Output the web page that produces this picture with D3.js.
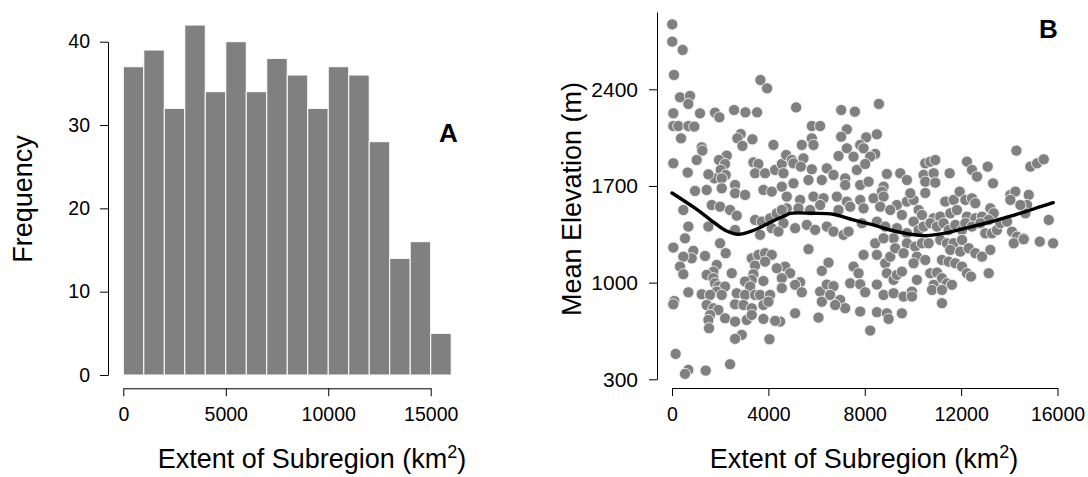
<!DOCTYPE html>
<html>
<head>
<meta charset="utf-8">
<script src="https://cdn.jsdelivr.net/npm/d3@7"></script>
<style>
  body { margin: 0; background: #fff; }
  svg text { font-family: "Liberation Sans", Arial, Helvetica, sans-serif; fill: #000; }
</style>
</head>
<body>
<svg id="chart" width="1088" height="477"></svg>
<script>
// Panel A: histogram of subregion extent (bin width 1000 km2)
const binStarts = [0,1000,2000,3000,4000,5000,6000,7000,8000,9000,10000,11000,12000,13000,14000,15000];
const binCounts = [37,39,32,42,34,40,34,38,36,32,37,36,28,14,16,5];
const histTicksX = [0,5000,10000,15000];
const histTicksY = [0,10,20,30,40];

// Panel B: mean elevation against subregion extent
const extentKm2 = [
  10,10,443,83,3670,3947,332,748,679,55,1163,1787,1967,2576,3047,3532,55,263,679,928,
  2853,2715,3338,2922,374,1233,1260,1025,4210,55,651,2271,1953,2202,2022,2230,1759,2064,3379,3587,
  3449,3864,4280,4557,1510,2618,956,1440,2064,2618,3033,3795,4141,4557,
  5152,7022,7590,8587,5803,6149,7257,7022,8061,8504,5803,5872,5388,7257,7811,7950,6911,7534,8435,8227,
  4737,4972,5457,5041,5346,5803,6426,6703,7188,7673,8019,8919,9473,9750,4626,5041,5664,6218,7188,7811,
  8158,8781,8712,
  4764,5318,5872,6288,6842,7257,7811,8365,8781,9335,9750,4764,5249,5734,6149,6911,7396,7950,8642,9058,
  9542,4626,5110,5595,5942,6426,6703,7119,7327,7881,8504,8850,9335,9750,8435,9196,8781,5665,6496,6218,
  4695,4903,5318,5110,5388,7534,7742,7950,7396,7811,8019,8504,8504,8850,9058,9266,8919,9196,9335,9542,
  8781,9196,9612,6149,6218,6426,6703,6565,6980,7188,6772,5110,4487,6080,7811,8504,8919,8989,9542,8227,
  1648,1994,2410,2687,471,679,1510,2618,3449,3726,4072,4349,4557,4141,4418,3656,540,55,886,1371,
  817,471,332,471,1994,2230,1856,1717,1440,1717,2479,3310,3587,3864,4141,3449,3379,3310,3864,4349,
  1787,1925,2202,1856,3033,3241,3795,4557,679,1233,1579,2064,2687,3033,3449,3656,4072,4557,97,55,
  1440,1717,1925,2618,2964,3310,3795,4003,1579,1510,2202,2618,3102,3310,3795,4280,1537,2895,2618,4044,
  152,679,540,1399,2410,
  14293,14875,15152,15429,10512,10720,10928,12243,12451,12659,13102,10443,10512,10858,10928,11524,13323,10027,10235,11343,
  11690,11939,12174,12451,12590,13213,13351,14044,14251,14044,14806,14737,14667,14459,10374,10858,11135,11551,11828,12243,
  12590,12867,13144,10027,10235,10443,10720,10997,11274,11482,11759,12036,12174,12451,12798,13005,13282,13490,13628,13905,
  14113,14321,14598,15637,9750,10097,10374,10651,10166,10512,10027,9612,11135,11413,11690,12036,11551,11967,12313,12590,
  12867,13213,14183,14598,15263,15817,11205,11482,11759,12036,10166,9958,9958,10720,10997,11205,10858,10789,11413,11620,
  11205,12243,12409,13144,11205,10512,9891
];
const meanElevation = [
  2870,2745,2685,2504,2467,2407,2342,2352,2294,2226,2226,2231,2197,2250,2233,2233,2134,2134,2134,2130,
  2076,2045,2038,1990,2045,1980,1956,1888,1997,1864,1797,1920,1888,1859,1816,1780,1755,1755,1871,1859,
  1792,1792,1816,1859,1784,1707,1664,1671,1683,1647,1635,1671,1659,1695,
  2269,2250,2238,2294,2134,2134,2110,2057,2052,2074,2045,1997,1997,1973,1997,1973,1917,1912,1932,1912,
  1924,1888,1900,1864,1840,1821,1828,1780,1755,1816,1859,1787,1792,1743,1792,1719,1743,1743,1707,1707,
  1731,1695,1659,
  1623,1599,1623,1611,1623,1587,1599,1611,1623,1562,1587,1538,1538,1526,1562,1526,1550,1538,1550,1526,
  1490,1430,1394,1418,1382,1406,1370,1346,1370,1430,1442,1406,1394,1358,1285,1321,1321,1242,1145,1085,
  1116,1068,1003,984,930,1116,1068,1201,995,988,930,986,1201,1140,1188,1249,1068,1020,1056,1080,
  911,923,899,935,862,986,974,911,875,815,838,778,718,747,791,786,778,737,778,653,
  1562,1550,1526,1485,1526,1406,1406,1381,1454,1442,1466,1502,1526,1394,1370,1346,1321,1254,1230,1193,
  1176,1188,1116,1061,1285,1213,1128,1080,1056,1032,1068,1176,1201,1213,1201,1123,1061,1020,1152,1104,
  996,972,972,935,1008,972,1012,1032,930,916,911,911,923,911,911,911,911,960,867,843,
  838,814,802,843,838,814,838,862,766,730,742,718,730,766,737,723,670,622,593,590,
  484,368,339,363,409,
  1956,1840,1864,1893,1864,1876,1888,1876,1816,1768,1840,1780,1731,1792,1724,1792,1719,1599,1526,1587,
  1599,1659,1599,1611,1575,1538,1502,1635,1659,1599,1635,1562,1502,1562,1490,1466,1478,1502,1526,1478,
  1466,1478,1454,1442,1381,1406,1430,1406,1430,1381,1418,1381,1430,1406,1430,1357,1357,1381,1430,1442,
  1369,1333,1321,1454,1285,1261,1285,1285,1188,1164,1140,1213,1309,1285,1285,1309,1237,1225,1249,1213,
  1188,1237,1285,1314,1297,1285,1164,1152,1140,1116,1020,935,899,1068,1073,1032,984,947,995,984,
  947,1068,1044,1068,851,1649,1647
];
// Smoothed trend through the scatter
const smoothExtent    = [0,956,1787,2273,2755,3171,3728,4281,4696,4904,5860,6691,7522,8353,9060,9891,10515,11346,12177,13008,13839,14671,15294,15822];
const smoothElevation = [1649,1539,1430,1374,1350,1365,1405,1454,1485,1502,1502,1495,1454,1418,1381,1350,1340,1358,1394,1430,1471,1514,1550,1579];
const elevTicksX = [0,4000,8000,12000,16000];
const elevTicksY = [300,1000,1700,2400];

const svg = d3.select("#chart");
svg.append("rect").attr("width", 1088).attr("height", 477).attr("fill", "#fff");

const barFill = "#808080";
const tickFont = 19.5;
const titleFont = 27;

function styleAxis(g, size) {
  g.select(".domain").attr("stroke", "#000").attr("stroke-width", 1);
  g.selectAll(".tick line").attr("stroke", "#000").attr("stroke-width", 1);
  g.selectAll(".tick text").attr("font-size", size || tickFont).attr("fill", "#000")
    .style("font-family", "'Liberation Sans', Arial, sans-serif");
}

function xTitle(cx) {
  const t = svg.append("text").attr("x", cx).attr("y", 468)
    .attr("text-anchor", "middle").attr("font-size", titleFont);
  t.append("tspan").text("Extent of Subregion (km");
  t.append("tspan").attr("font-size", 18).attr("dy", -10).text("2");
  t.append("tspan").attr("dy", 10).text(")");
}

// ---------- Panel A ----------
const xh = d3.scaleLinear().domain([0, 15000]).range([123.3, 430.7]);
const yh = d3.scaleLinear().domain([0, 40]).range([375, 41.7]);

svg.append("g").selectAll("rect").data(binStarts).join("rect")
  .attr("x", (d) => xh(d))
  .attr("width", (d) => xh(d + 1000) - xh(d))
  .attr("y", (d, i) => yh(binCounts[i]))
  .attr("height", (d, i) => yh(0) - yh(binCounts[i]))
  .attr("fill", barFill)
  .attr("stroke", "#fff")
  .attr("stroke-width", 1);

svg.append("g").attr("transform", "translate(108,0)")
  .call(d3.axisLeft(yh).tickValues(histTicksY).tickSize(8).tickSizeOuter(0).tickPadding(10).tickFormat(d3.format("d")))
  .call(styleAxis);

svg.append("g").attr("transform", "translate(0,388.3)")
  .call(d3.axisBottom(xh).tickValues(histTicksX).tickSize(8).tickSizeOuter(0).tickPadding(11).tickFormat(d3.format("d")))
  .call(styleAxis);

svg.append("text").attr("transform", "translate(32,199) rotate(-90)")
  .attr("text-anchor", "middle").attr("font-size", titleFont).text("Frequency");
xTitle(312);
svg.append("text").attr("x", 448.5).attr("y", 141.5).attr("text-anchor", "middle")
  .attr("font-size", 26).attr("font-weight", "bold").text("A");

// ---------- Panel B ----------
const xs = d3.scaleLinear().domain([0, 16000]).range([672, 1057.5]);
const ys = d3.scaleLinear().domain([300, 2400]).range([379.3, 89.3]);
const yAxisScale = ys.copy().domain([300, 2960]).range([379.3, ys(2960)]);

svg.append("g").selectAll("circle").data(extentKm2).join("circle")
  .attr("cx", (d) => xs(d))
  .attr("cy", (d, i) => ys(meanElevation[i]))
  .attr("r", 5.6)
  .attr("fill", barFill)
  .attr("stroke", "#f0f0f0")
  .attr("stroke-width", 0.9);

const trend = d3.line()
  .x((d) => xs(d[0]))
  .y((d) => ys(d[1]))
  .curve(d3.curveCatmullRom.alpha(0.5));
svg.append("path")
  .datum(smoothExtent.map((d, i) => [d, smoothElevation[i]]))
  .attr("d", trend)
  .attr("fill", "none")
  .attr("stroke", "#000")
  .attr("stroke-width", 3.4)
  .attr("stroke-linecap", "round");

svg.append("g").attr("transform", "translate(657,0)")
  .call(d3.axisLeft(yAxisScale).tickValues(elevTicksY).tickSize(8).tickSizeOuter(0).tickPadding(11).tickFormat(d3.format("d")))
  .call(styleAxis, 21);

svg.append("g").attr("transform", "translate(0,388)")
  .call(d3.axisBottom(xs).tickValues(elevTicksX).tickSize(8).tickSizeOuter(0).tickPadding(11).tickFormat(d3.format("d")))
  .call(styleAxis);

svg.append("text").attr("transform", "translate(581,199) rotate(-90)")
  .attr("text-anchor", "middle").attr("font-size", titleFont).text("Mean Elevation (m)");
xTitle(864);
svg.append("text").attr("x", 1048.5).attr("y", 37.5).attr("text-anchor", "middle")
  .attr("font-size", 26).attr("font-weight", "bold").text("B");
</script>
</body>
</html>
